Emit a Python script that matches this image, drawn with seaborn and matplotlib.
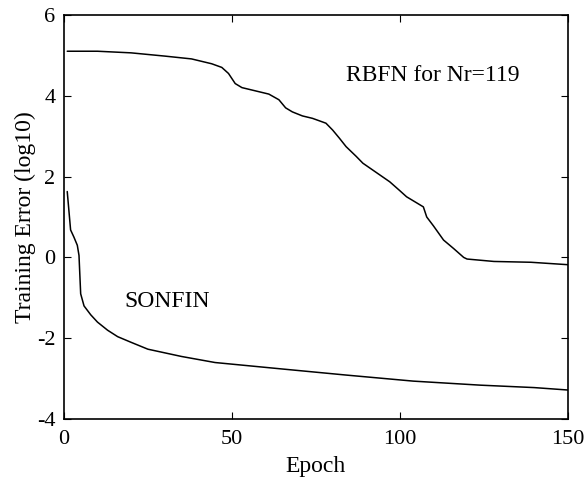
import pandas as pd
import seaborn as sns
import matplotlib
matplotlib.use("Agg")
import matplotlib.pyplot as plt

# values
rbfn_epoch = [1, 10, 20, 30, 38, 44, 47, 49, 51, 53, 57, 61, 64, 66, 68, 71, 74, 78, 80, 82, 84,
              87, 89, 93, 97, 100, 102, 105, 107, 108, 110, 113, 116, 119, 120, 128, 139, 150]
rbfn_err = [5.1, 5.1, 5.06, 4.98, 4.91, 4.79, 4.7, 4.55, 4.3, 4.2, 4.12, 4.04, 3.9, 3.7, 3.6, 3.5,
            3.44, 3.32, 3.15, 2.95, 2.74, 2.5, 2.33, 2.1, 1.87, 1.65, 1.5, 1.35, 1.25, 1.0, 0.78,
            0.43, 0.22, 0.0, -0.04, -0.1, -0.12, -0.18]
sonfin_epoch = [1, 2, 3, 4, 4.5, 5, 6, 8, 10, 13, 16, 20, 25, 30, 35, 45, 55, 65, 84, 104, 124, 140, 150]
sonfin_err = [1.63, 0.68, 0.5, 0.3, 0.05, -0.9, -1.2, -1.42, -1.6, -1.8, -1.96, -2.1, -2.27, -2.36,
              -2.45, -2.6, -2.68, -2.76, -2.91, -3.06, -3.16, -3.22, -3.28]

df = pd.concat([
    pd.DataFrame({"epoch": rbfn_epoch, "err": rbfn_err, "model": "RBFN"}),
    pd.DataFrame({"epoch": sonfin_epoch, "err": sonfin_err, "model": "SONFIN"}),
])

sns.set_theme(style="ticks")
plt.rcParams['font.family'] = ['Liberation Serif', 'DejaVu Serif']
plt.rcParams['axes.unicode_minus'] = False
plt.rcParams['text.color'] = 'black'
plt.rcParams['axes.labelcolor'] = 'black'

fig = plt.figure(figsize=(5.86, 4.79), dpi=100)
ax = fig.add_axes([0.109, 0.125, 0.86, 0.844])
sns.lineplot(data=df, x="epoch", y="err", units="model", estimator=None,
             color="black", linewidth=1.1, ax=ax, legend=False)

ax.set_xlim(0, 150)
ax.set_ylim(-4, 6)
ax.set_xticks([0, 50, 100, 150])
ax.set_yticks([-4, -2, 0, 2, 4, 6])
ax.tick_params(direction="in", length=5, width=0.8, top=True, right=True,
               labelsize=16, colors="black")
ax.tick_params(axis="x", pad=8)
ax.tick_params(axis="y", pad=6)
for s in ax.spines.values():
    s.set_color("black")
    s.set_linewidth(1.2)
ax.set_xlabel("Epoch", fontsize=17, labelpad=5)
ax.set_ylabel("Training Error (log10)", fontsize=17, labelpad=1)

ax.text(84, 4.5, "RBFN for Nr=119", fontsize=17, va="center", ha="left")
ax.text(18, -1.1, "SONFIN", fontsize=17, va="center", ha="left")

plt.savefig("out.png", dpi=100)
